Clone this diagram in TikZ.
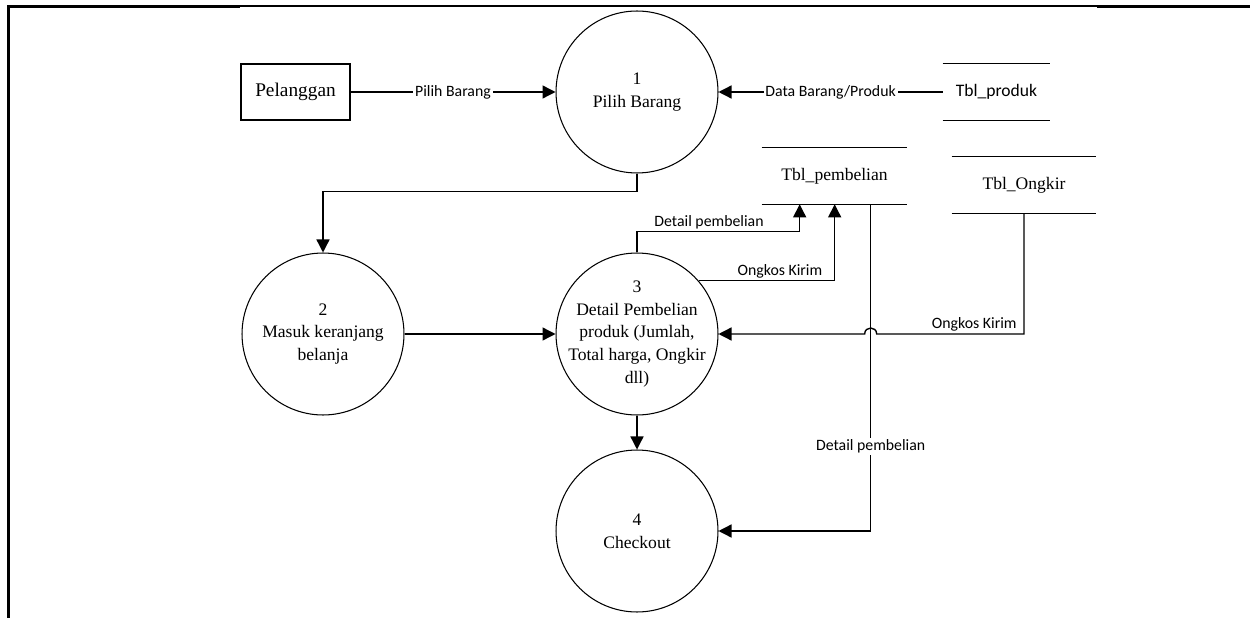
\documentclass[tikz,border=0pt]{standalone}
\usepackage{fontspec}
\setmainfont{Liberation Serif}
\newfontfamily\alirfont{Carlito}
\usetikzlibrary{arrows.meta,calc}

\begin{document}
\begin{tikzpicture}[x=0.02cm, y=-0.02cm,
        proses/.style={draw, circle, line width=0.6pt, minimum size=3.24cm, inner sep=0pt},
        isi/.style={align=center, font=\fontsize{10}{13}\selectfont},
        entitas/.style={draw, line width=0.6pt, minimum width=2.18cm, minimum height=1.12cm, font=\fontsize{11}{13}\selectfont},
        simpan/.style={minimum width=#1, minimum height=1.12cm, inner sep=0pt, font=\fontsize{10}{12}\selectfont},
        alir/.style={line width=0.8pt, -{Triangle[length=0.26cm, width=0.26cm]}},
        ket/.style={font=\alirfont\fontsize{9}{11}\selectfont, inner sep=1pt}]
    \useasboundingbox (0,0) rectangle (1250,618);
    % bingkai tabel
    \fill (7,5) rectangle (9.5,618);
    \fill (7,5) rectangle (240,8);
    \fill (240,5) rectangle (1097,7);
    \fill (1097,5) rectangle (1250,8);

    % entitas dan proses
    \node[entitas] (pelanggan) at (295.5,92) {Pelanggan};
    \node[proses, label={[isi]center:{1\\Pilih Barang}}] (p1) at (637,92) {};
    \node[proses, label={[isi]center:{2\\Masuk keranjang\\belanja}}] (p2) at (323,334) {};
    \node[proses, label={[isi]center:{3\\Detail Pembelian\\produk (Jumlah,\\Total harga, Ongkir\\dll)}}] (p3) at (637,334) {};
    \node[proses, label={[isi]center:{4\\Checkout}}] (p4) at (637,531) {};

    % data store
    \node[simpan=2.14cm, font=\alirfont\fontsize{10}{12}\selectfont] (produk) at (996.5,92) {Tbl\_produk};
    \node[simpan=2.9cm] (pembelian) at (834.5,176) {Tbl\_pembelian};
    \node[simpan=2.88cm] (ongkir) at (1024,185) {Tbl\_Ongkir};
    \foreach \s in {produk,pembelian,ongkir}
        \draw[line width=0.8pt] (\s.north west) -- (\s.north east) (\s.south west) -- (\s.south east);
    \coordinate (turun) at ($(pembelian.south west)+(109,0)$);

    % aliran data
    \draw[alir] (pelanggan) -- node[ket, fill=white] {Pilih Barang} (p1);
    \draw[alir] (produk.west) -- node[ket, fill=white] {Data Barang/Produk} (p1.east);
    \draw[alir] (p1.south) -- ++(0,18) -| (p2.north);
    \draw[alir] (p2) -- (p3);
    \draw[alir] (p3) -- (p4);
    \draw[alir] (p3.north) -- ++(0,-21) node[ket, above right, xshift=0.3cm] {Detail pembelian}
        -| ($(pembelian.south west)+(38,0)$);
    \draw[alir] (p3.41) -| node[ket, above left, pos=0.5, xshift=-0.2cm] {Ongkos Kirim}
        ($(pembelian.south west)+(73,0)$);
    \draw[alir] (ongkir.south) |- node[ket, above left, pos=0.5, xshift=-0.1cm] {Ongkos Kirim}
        ($(turun |- p3.east)+(6,0)$) .. controls +(0,-8) and +(0,-8) .. ++(-12,0) -- (p3.east);
    \draw[alir] (turun) |- node[ket, fill=white, pos=0.37] {Detail pembelian} (p4.east);
\end{tikzpicture}
\end{document}
